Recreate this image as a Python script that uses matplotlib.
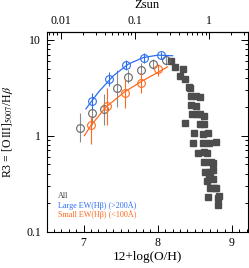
import numpy as np
import matplotlib
matplotlib.use('Agg')
import matplotlib.pyplot as plt
from matplotlib.ticker import FixedLocator, FuncFormatter, MultipleLocator, NullFormatter

plt.rcParams['font.family'] = ['Liberation Serif', 'DejaVu Serif']
plt.rcParams['mathtext.fontset'] = 'stix'

# stacked bins, all galaxies
all_x = [6.95, 7.11, 7.28, 7.45, 7.60, 7.77, 7.93, 8.11]
all_y = [1.21, 1.71, 1.88, 3.16, 4.12, 4.83, 5.57, 6.13]
all_lo = [0.85, 1.30, 1.30, 2.00, 3.50, 4.10, 4.90, 5.50]
all_hi = [1.71, 2.25, 2.70, 4.80, 4.85, 5.70, 6.30, 6.80]

# large EW(Hb) > 200A
large_x = [7.11, 7.34, 7.57, 7.81, 8.05]
large_y = [2.27, 3.86, 5.45, 6.38, 6.91]
large_lo = [1.90, 3.30, 4.80, 5.70, 6.30]
large_hi = [2.75, 4.55, 6.20, 7.20, 7.50]
large_fit_x = [7.03, 7.2, 7.4, 7.6, 7.8, 8.0, 8.2]
large_fit_y = [1.90, 2.84, 4.20, 5.55, 6.50, 6.90, 6.80]

# small EW(Hb) < 100A
small_x = [7.10, 7.32, 7.56, 7.78, 8.00]
small_y = [1.29, 2.05, 2.76, 3.57, 4.91]
small_lo = [0.81, 1.30, 1.95, 2.80, 4.20]
small_hi = [1.60, 3.10, 3.90, 4.50, 5.60]
small_fit_x = [7.01, 7.1, 7.3, 7.55, 7.8, 8.0, 8.13]
small_fit_y = [1.00, 1.28, 1.98, 2.85, 3.75, 4.55, 5.20]

# local galaxies (filled squares)
sq_x = [8.18, 8.23, 8.34, 8.30, 8.37, 8.42, 8.44, 8.45, 8.52, 8.57, 8.45, 8.52,
        8.46, 8.53, 8.57, 8.62, 8.37, 8.57, 8.62, 8.49, 8.61, 8.68, 8.48, 8.61,
        8.69, 8.78, 8.54, 8.62, 8.66, 8.63, 8.72, 8.75, 8.64, 8.71, 8.75, 8.69,
        8.66, 8.75, 8.70, 8.76, 8.79, 8.68, 8.83, 8.81, 8.81]
sq_y = [6.04, 5.14, 4.91, 4.18, 3.89, 3.24, 3.11, 2.61, 2.61, 2.51, 2.07, 2.03,
        1.67, 1.67, 1.67, 1.62, 1.34, 1.32, 1.32, 1.06, 1.04, 1.06, 0.837, 0.831,
        0.841, 0.848, 0.665, 0.669, 0.665, 0.531, 0.536, 0.523, 0.418, 0.422, 0.435, 0.359,
        0.337, 0.353, 0.283, 0.287, 0.283, 0.229, 0.233, 0.226, 0.188]

zsun_ticks = [0.01, 0.1, 1]
ZSUN = 8.69

blue = '#2b6ef2'
orange = '#ff6a1f'

fig = plt.figure(figsize=(2.49, 2.68), dpi=100)
ax = fig.add_axes([0.187, 0.136, 0.807, 0.743])


def circles(x, y, lo, hi, color, ecolor, z):
    y = np.array(y)
    yerr = [y - np.array(lo), np.array(hi) - y]
    ax.errorbar(x, y, yerr=yerr, fmt='o', ms=5.6, mfc='none', mec=color,
                mew=0.8, ecolor=ecolor, elinewidth=0.8, capsize=0, zorder=z)


ax.plot(sq_x, sq_y, 's', ms=3.7, color='#4d4d4d', mec='#4d4d4d', zorder=2)
circles(all_x, all_y, all_lo, all_hi, '#666666', '#8a8a8a', 3)
ax.plot(small_fit_x, small_fit_y, color=orange, lw=0.9, zorder=4)
circles(small_x, small_y, small_lo, small_hi, orange, orange, 4)
ax.plot(large_fit_x, large_fit_y, color=blue, lw=0.9, zorder=5)
circles(large_x, large_y, large_lo, large_hi, blue, blue, 5)

ax.set_yscale('log')
ax.set_xlim(6.5, 9.21)
ax.set_ylim(0.1, 11.9)
ax.set_yticks([0.1, 1, 10])
ax.yaxis.set_major_formatter(FuncFormatter(lambda v, p: f'{v:g}'))
ax.yaxis.set_minor_formatter(NullFormatter())
ax.xaxis.set_major_locator(MultipleLocator(1))
ax.xaxis.set_minor_locator(MultipleLocator(0.1))
ax.tick_params(which='both', direction='in', right=True, labelsize=8.5, width=0.7)
ax.tick_params(which='major', length=5, pad=4)
ax.tick_params(which='minor', length=2.5)
for s in ax.spines.values():
    s.set_linewidth(0.8)

ax.set_xlabel('12+log(O/H)', fontsize=9.5)
ax.xaxis.set_label_coords(0.5, -0.1)
ax.set_ylabel(r'R3 = [O$\,$III]$_{5007}$/H$\beta$', fontsize=8.5, va='center')
ax.yaxis.set_label_coords(-0.195, 0.5)

sec = ax.secondary_xaxis('top', functions=(lambda x: 10 ** (x - ZSUN),
                                           lambda z: np.log10(np.clip(z, 1e-12, None)) + ZSUN))
minor_z = [m * d for d in (0.001, 0.01, 0.1, 1) for m in range(2, 10)]
minor_z = [z for z in minor_z if 10 ** (6.5 - ZSUN) < z < 10 ** (9.21 - ZSUN)]
sec.xaxis.set_major_locator(FixedLocator(zsun_ticks))
sec.xaxis.set_minor_locator(FixedLocator(minor_z))
sec.xaxis.set_major_formatter(FuncFormatter(lambda v, p: f'{v:g}'))
sec.xaxis.set_minor_formatter(NullFormatter())
sec.tick_params(which='both', direction='in', labelsize=8.5, width=0.7)
sec.tick_params(which='major', length=5, pad=4)
sec.tick_params(which='minor', length=2.5)
sec.set_xlabel('Zsun', fontsize=9, labelpad=5)

ax.text(0.055, 0.178, 'All', transform=ax.transAxes, fontsize=5.9,
        color='#444444', va='center')
ax.text(0.055, 0.131, 'Large EW(Hβ) (>200Å)', transform=ax.transAxes,
        fontsize=5.9, color=blue, va='center')
ax.text(0.055, 0.084, 'Small EW(Hβ) (<100Å)', transform=ax.transAxes,
        fontsize=5.9, color=orange, va='center')

fig.savefig('out.png', dpi=100)
